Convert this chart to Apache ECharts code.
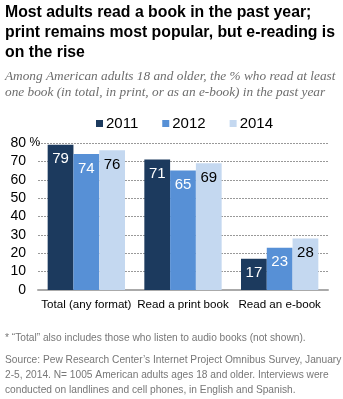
<!DOCTYPE html>
<html><head><meta charset="utf-8">
<script src="https://cdn.jsdelivr.net/npm/echarts@6/dist/echarts.min.js"></script>
<style>html,body{margin:0;padding:0;background:#fff}#c{width:343px;height:399px}</style>
</head><body><div id="c"></div>
<script>
const categories = ['Total (any format)', 'Read a print book', 'Read an e-book'];
const years = ['2011', '2012', '2014'];
const v2011 = [79, 71, 17];
const v2012 = [74, 65, 23];
const v2014 = [76, 69, 28];
const yTicks = [0, 10, 20, 30, 40, 50, 60, 70, 80];
const titleLines = ['Most adults read a book in the past year;', 'print remains most popular, but e-reading is', 'on the rise'];
const subLines = ['Among American adults 18 and older, the % who read at least', 'one book (in total, in print, or as an e-book) in the past year'];
const noteLines = ['* \u201cTotal\u201d also includes those who listen to audio books (not shown).'];
const sourceLines = ['Source: Pew Research Center\u2019s Internet Project Omnibus Survey, January', '2-5, 2014. N= 1005 American adults ages 18 and older. Interviews were', 'conducted on landlines and cell phones, in English and Spanish.'];

const colors = ['#1c3a5e', '#5790d6', '#c4d8f0'];
const labelColors = ['#fff', '#fff', '#000'];
const seriesData = [v2011, v2012, v2014];

const graphics = [];
titleLines.forEach((t, i) => graphics.push({type: 'text', left: 5, top: 5 + i * 20, style: {text: t, font: 'bold 15.8px "Liberation Sans", Arial, sans-serif', fill: '#000'}}));
subLines.forEach((t, i) => graphics.push({type: 'text', left: 5, top: 70 + i * 16, style: {text: t, font: 'italic 13.3px "Liberation Serif", serif', fill: '#6d6d6d'}}));
noteLines.forEach((t, i) => graphics.push({type: 'text', left: 5, top: 333 + i * 15, style: {text: t, font: '10.2px "Liberation Sans", Arial, sans-serif', fill: '#777'}}));
sourceLines.forEach((t, i) => graphics.push({type: 'text', left: 5, top: 355 + i * 15, style: {text: t, font: '10.2px "Liberation Sans", Arial, sans-serif', fill: '#777'}}));

const chart = echarts.init(document.getElementById('c'), null, {renderer: 'canvas'});
chart.setOption({
  animation: false,
  graphic: graphics,
  legend: {
    top: 111, left: 91, itemWidth: 7, itemHeight: 7, itemGap: 24,
    icon: 'rect',
    textStyle: {fontSize: 15, fontFamily: '"Liberation Sans", Arial, sans-serif', color: '#000', padding: [0, 0, 0, -2]},
    data: years
  },
  grid: {left: 38, right: 15, top: 143, bottom: 109, containLabel: false},
  xAxis: {
    type: 'category', data: categories,
    axisTick: {show: false},
    axisLine: {lineStyle: {color: '#aaa', width: 2}},
    axisLabel: {interval: 0, fontSize: 11.6, color: '#000', fontFamily: '"Liberation Sans", Arial, sans-serif', margin: 9}
  },
  yAxis: {
    type: 'value', min: 0, max: 80, interval: 10,
    axisLine: {show: false}, axisTick: {show: false},
    splitLine: {lineStyle: {color: '#999', type: [2, 1], width: 1}},
    axisLabel: {
      margin: 1, color: '#000',
      formatter: v => yTicks.includes(v) ? (v === 80 ? '{n|' + v + '}{p|  %}' : '{n|' + v + '}{p|}') : '',
      rich: {
        n: {fontSize: 14, fontFamily: '"Liberation Sans", Arial, sans-serif', color: '#000'},
        p: {width: 11, fontSize: 12, fontFamily: '"Liberation Sans", Arial, sans-serif', color: '#000', align: 'left'}
      }
    }
  },
  series: years.map((y, i) => ({
    name: y, type: 'bar', data: seriesData[i],
    barGap: '0%', barCategoryGap: '20%',
    itemStyle: {color: colors[i]},
    label: {show: true, position: 'insideTop', distance: 7, fontSize: 15, color: labelColors[i], fontFamily: '"Liberation Sans", Arial, sans-serif'}
  }))
});
</script></body></html>
